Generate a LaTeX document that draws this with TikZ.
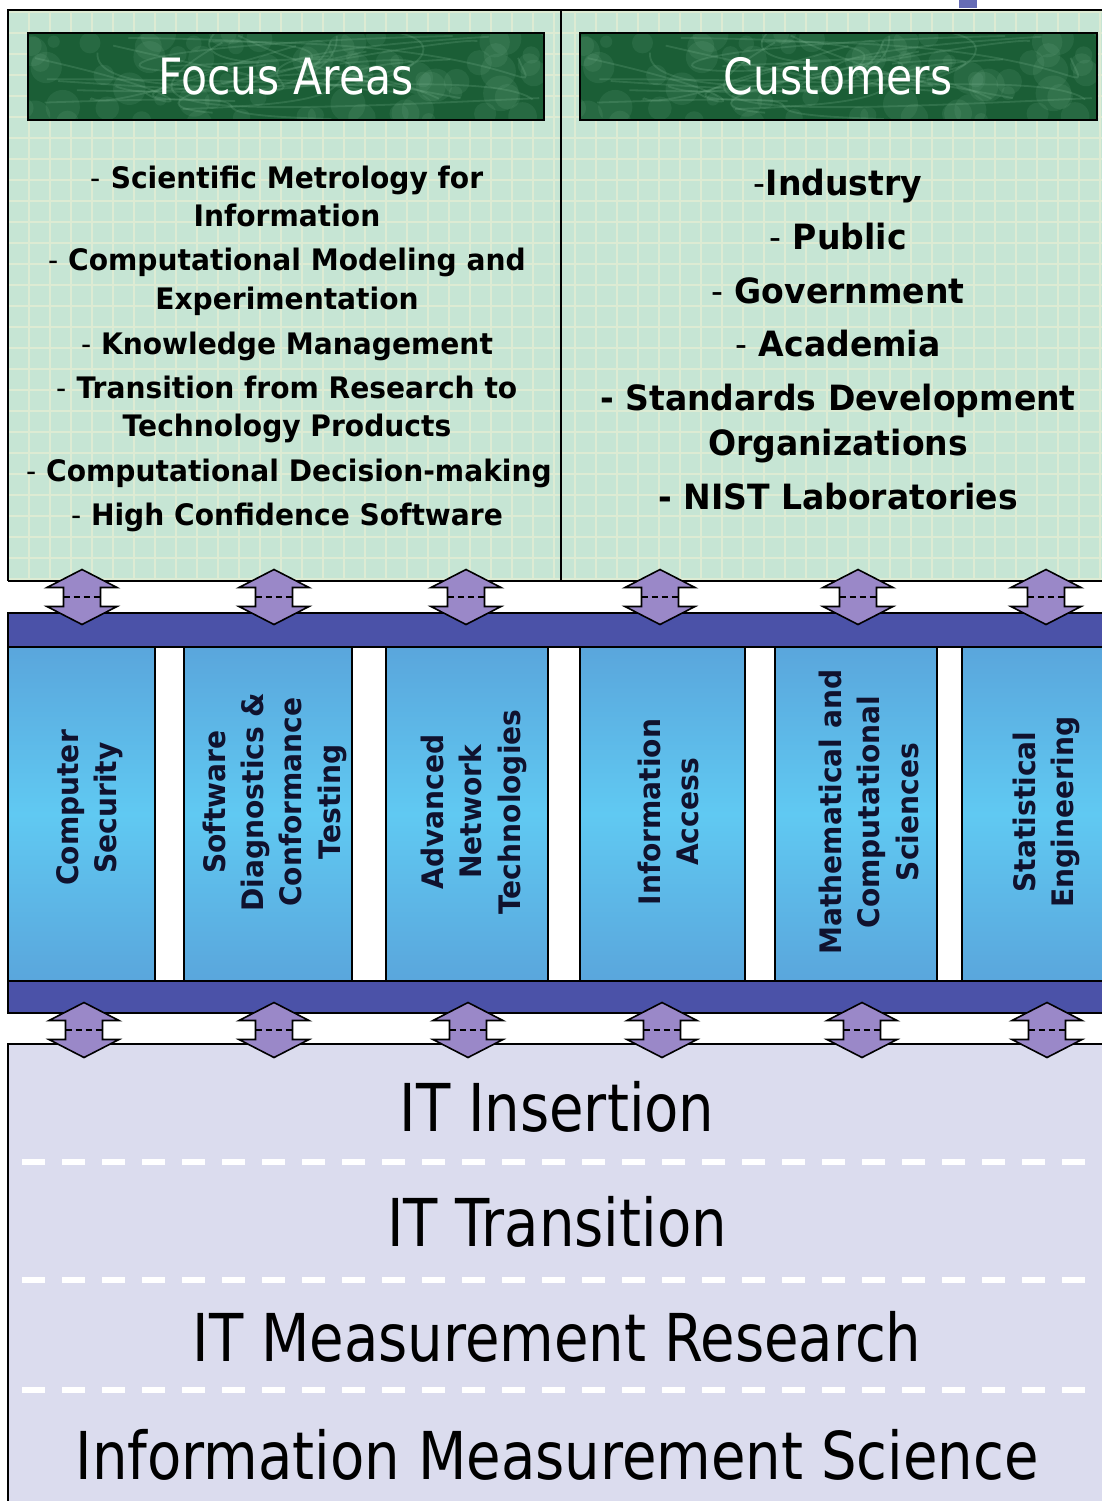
\documentclass[tikz,border=0pt]{standalone}
\usepackage{fontspec}
\setmainfont{DejaVu Sans}
\newfontfamily\regf[FakeStretch=0.85]{DejaVu Sans}
\newfontfamily\boldf[FakeStretch=0.95]{DejaVu Sans}
\definecolor{mint}{HTML}{C6E5D4}
\definecolor{gridc}{HTML}{DDEBD3}
\definecolor{bargreen}{HTML}{1B5E36}
\definecolor{marble}{HTML}{7FB894}
\definecolor{navybar}{HTML}{4B52A8}
\definecolor{colblue}{HTML}{5AA6DC}
\definecolor{colcyan}{HTML}{60C9F2}
\definecolor{arrowpurple}{HTML}{9A88C8}
\definecolor{lav}{HTML}{DBDCEE}
\definecolor{coltext}{HTML}{10122E}
\newcommand{\dblarrow}[2]{%
  \draw[arr] (#1,{#2-27.5}) -- ({#1+35},{#2-9.5}) -- ({#1+18.5},{#2-9.5}) -- ({#1+18.5},{#2+9.5}) -- ({#1+35},{#2+9.5}) -- (#1,{#2+27.5}) -- ({#1-35},{#2+9.5}) -- ({#1-18.5},{#2+9.5}) -- ({#1-18.5},{#2-9.5}) -- ({#1-35},{#2-9.5}) -- cycle;
  \draw[black, line width=0.9pt, dash pattern=on 3pt off 2pt] ({#1-18.5},#2) -- ({#1+18.5},#2);}
\begin{document}
\begin{tikzpicture}[x=0.5pt,y=-0.5pt,
  arr/.style={fill=arrowpurple, draw=black, line width=0.8pt, line join=miter},
  frame/.style={draw=black, line width=0.9pt},
  hdr/.style={text=white, font=\regf\fontsize{25}{30}\selectfont, anchor=base, inner sep=0pt},
  lst/.style={font=\boldf\bfseries\fontsize{14.8}{19}\selectfont, anchor=base, inner sep=0pt},
  cst/.style={font=\boldf\bfseries\fontsize{17.4}{22}\selectfont, anchor=base, inner sep=0pt},
  coltxt/.style={font=\boldf\bfseries\fontsize{14.8}{19}\selectfont, anchor=base, rotate=90, inner sep=0pt, text=coltext},
  big/.style={font=\regf\fontsize{33}{40}\selectfont, anchor=base, inner sep=0pt}]
\useasboundingbox (0,0) rectangle (1102,1501);
\fill[white] (0,0) rectangle (1102,1501);
% small cut-off element at the top
\fill[navybar!85] (959,-4) rectangle (977,8);
% ---------- top panel ----------
\fill[mint] (8,10) rectangle (1110,581);
\begin{scope}
  \clip (8,10) rectangle (1110,581);
  \foreach \gx in {8,29,...,1110} \draw[gridc, line width=1.1pt] (\gx,10) -- (\gx,581);
  \foreach \gy in {12,33,...,581} \draw[gridc, line width=1.1pt] (8,\gy) -- (1110,\gy);
\end{scope}
\draw[frame] (8,581) -- (8,10) -- (1110,10);
\draw[frame] (8,581) -- (1110,581);
\draw[frame] (561,10) -- (561,581);
% header banners (dark green marble)
\foreach \xa/\xb in {28/544,580/1097}{
  \fill[bargreen] (\xa,33) rectangle (\xb,120);
  \begin{scope}
    \clip (\xa,33) rectangle (\xb,120);
    \pgfmathsetseed{11}
    \foreach \i in {1,...,70}{
      \fill[marble, opacity=0.13] ({(\xa+\xb)/2+270*rand},{76+48*rand}) circle ({6+12*rnd});
    }
    \foreach \i in {1,...,22}{
      \draw[marble, opacity=0.22, line width=0.9pt]
        ({(\xa+\xb)/2+260*rand},{76+45*rand}) .. controls ({(\xa+\xb)/2+260*rand},{76+45*rand}) and ({(\xa+\xb)/2+260*rand},{76+45*rand}) .. ({(\xa+\xb)/2+260*rand},{76+45*rand});
    }
  \end{scope}
  \draw[frame] (\xa,33) rectangle (\xb,120);
}
\node[hdr] (focus) at (286,94) {Focus Areas};
\node[hdr] (cust) at (838,94) {Customers};
% focus areas list
\node[lst] (fl1) at (287,188) {{\mdseries -} Scientific Metrology for};
\node[lst] (fl2) at (287,226) {Information};
\node[lst] (fl3) at (287,270) {{\mdseries -} Computational Modeling and};
\node[lst] (fl4) at (287,309) {Experimentation};
\node[lst] (fl5) at (287,354) {{\mdseries -} Knowledge Management};
\node[lst] (fl6) at (287,398) {{\mdseries -} Transition from Research to};
\node[lst] (fl7) at (287,436) {Technology Products};
\node[lst] (fl8) at (289,481) {{\mdseries -} Computational Decision-making};
\node[lst] (fl9) at (287,525) {{\mdseries -} High Confidence Software};
% customers list
\node[cst] (cl1) at (838,195) {{\mdseries -}Industry};
\node[cst] (cl2) at (838,249) {{\mdseries -} Public};
\node[cst] (cl3) at (838,303) {{\mdseries -} Government};
\node[cst] (cl4) at (838,356) {{\mdseries -} Academia};
\node[cst] (cl5) at (838,410) {- Standards Development};
\node[cst] (cl6) at (838,455) {Organizations};
\node[cst] (cl7) at (838,509) {- NIST Laboratories};
% ---------- blue bars and columns ----------
\fill[navybar] (8,613) rectangle (1110,647);
\draw[frame] (1110,613) -- (8,613) -- (8,647) -- (1110,647);
\fill[navybar] (8,981) rectangle (1110,1013);
\draw[frame] (1110,981) -- (8,981) -- (8,1013) -- (1110,1013);
\foreach \xa/\xb in {8/155,184/352,386/548,580/745,775/937,962/1110}{
  \shade[top color=colblue, bottom color=colblue, middle color=colcyan] (\xa,647) rectangle (\xb,981);
  \draw[frame] (\xa,647) rectangle (\xb,981);
}
\node[coltxt] (c1a) at (78,808) {Computer};
\node[coltxt] (c1b) at (116,808) {Security};
\node[coltxt] (c2a) at (225,802) {Software};
\node[coltxt] (c2b) at (263,802) {Diagnostics \&};
\node[coltxt] (c2c) at (301,802) {Conformance};
\node[coltxt] (c2d) at (340,802) {Testing};
\node[coltxt] (c3a) at (443,812) {Advanced};
\node[coltxt] (c3b) at (481,812) {Network};
\node[coltxt] (c3c) at (520,812) {Technologies};
\node[coltxt] (c4a) at (660,812) {Information};
\node[coltxt] (c4b) at (698,812) {Access};
\node[coltxt] (c5a) at (841,812) {Mathematical and};
\node[coltxt] (c5b) at (879,812) {Computational};
\node[coltxt] (c5c) at (918,812) {Sciences};
\node[coltxt] (c6a) at (1035,812) {Statistical};
\node[coltxt] (c6b) at (1073,812) {Engineering};
% ---------- bottom panel ----------
\fill[lav] (8,1044) rectangle (1110,1510);
\draw[frame] (8,1510) -- (8,1044) -- (1110,1044);
\foreach \dy in {1162,1280,1390}
  \draw[white, line width=3.4pt, dash pattern=on 11.5pt off 8.5pt] (22,\dy) -- (1102,\dy);
\node[big] (b1) at (557,1131) {IT Insertion};
\node[big] (b2) at (557,1246) {IT Transition};
\node[big] (b3) at (557,1361) {IT Measurement Research};
\node[big] (b4) at (557,1479) {Information Measurement Science};
% ---------- double arrows ----------
\foreach \cx in {82,274,466,660,858,1046} { \dblarrow{\cx}{597} }
\foreach \cx in {84,274,468,662,862,1047} { \dblarrow{\cx}{1030} }
\end{tikzpicture}
\end{document}
